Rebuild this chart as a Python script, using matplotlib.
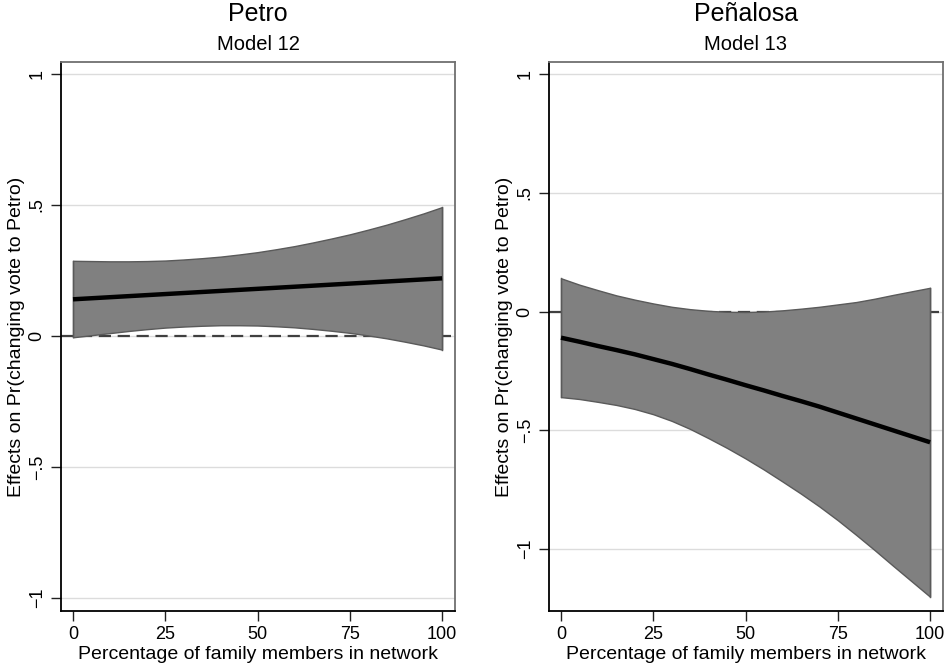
import matplotlib
matplotlib.use("Agg")
import matplotlib.pyplot as plt

plt.rcParams["font.family"] = ["Liberation Sans", "DejaVu Sans"]

# share of family members in network (%)
x_vals = [0, 5, 10, 15, 20, 25, 30, 35, 40, 45, 50,
          55, 60, 65, 70, 75, 80, 85, 90, 95, 100]

# Model 12 (Petro)
petro_mean = [0.140, 0.144, 0.148, 0.152, 0.156, 0.160, 0.164, 0.168, 0.172, 0.176, 0.180,
              0.184, 0.188, 0.192, 0.196, 0.200, 0.204, 0.208, 0.212, 0.216, 0.220]
petro_upper = [0.287, 0.286, 0.285, 0.285, 0.286, 0.288, 0.292, 0.297, 0.303, 0.311, 0.320,
               0.331, 0.343, 0.357, 0.372, 0.388, 0.406, 0.425, 0.446, 0.468, 0.492]
petro_lower = [-0.005, 0.003, 0.011, 0.019, 0.026, 0.032, 0.036, 0.039, 0.041, 0.041, 0.040,
               0.037, 0.033, 0.027, 0.020, 0.012, 0.002, -0.009, -0.022, -0.036, -0.052]

# Model 13 (Peñalosa)
penalosa_mean = [-0.110, -0.127, -0.145, -0.162, -0.180, -0.200, -0.220, -0.242, -0.265, -0.287, -0.310,
                 -0.332, -0.355, -0.377, -0.400, -0.425, -0.450, -0.475, -0.500, -0.525, -0.550]
penalosa_upper = [0.140, 0.113, 0.090, 0.068, 0.050, 0.034, 0.020, 0.010, 0.003, -0.001, -0.002,
                  0.000, 0.005, 0.012, 0.020, 0.030, 0.040, 0.054, 0.070, 0.085, 0.100]
penalosa_lower = [-0.360, -0.368, -0.380, -0.393, -0.410, -0.432, -0.460, -0.494, -0.533, -0.574, -0.618,
                  -0.665, -0.715, -0.766, -0.820, -0.878, -0.940, -1.004, -1.070, -1.135, -1.200]

y_ticks = [-1, -0.5, 0, 0.5, 1]
y_ticklabels = ["\u22121", "\u2212.5", "0", ".5", "1"]
x_ticks = [0, 25, 50, 75, 100]

panels = [
    ("Petro", "Model 12", petro_mean, petro_upper, petro_lower, (-1.05, 1.046)),
    ("Peñalosa", "Model 13", penalosa_mean, penalosa_upper, penalosa_lower, (-1.26, 1.05)),
]

fig = plt.figure(figsize=(9.53, 6.64), dpi=100)
fig.patch.set_facecolor("white")

axes_boxes = [
    [61 / 953, 1 - 611 / 664, 394 / 953, 549 / 664],
    [549 / 953, 1 - 611 / 664, 394 / 953, 549 / 664],
]

for box, (title, subtitle, mean, upper, lower, ylim) in zip(axes_boxes, panels):
    ax = fig.add_axes(box)
    ax.set_xlim(-3.25, 103.5)
    ax.set_ylim(*ylim)

    for yt in y_ticks:
        ax.axhline(yt, color="#dcdcdc", lw=1.0, zorder=1)
    ax.axhline(0, color="#404040", lw=1.6, ls=(0, (5.5, 3)), zorder=2)

    ax.fill_between(x_vals, lower, upper, facecolor="#808080",
                    edgecolor="#5a5a5a", lw=1.0, zorder=3)
    ax.plot([x_vals[0], x_vals[0]], [lower[0], upper[0]], color="#5a5a5a", lw=1.0, zorder=3)
    ax.plot([x_vals[-1], x_vals[-1]], [lower[-1], upper[-1]], color="#5a5a5a", lw=1.0, zorder=3)
    ax.plot(x_vals, mean, color="black", lw=3.2, zorder=4, solid_capstyle="butt")

    ax.set_yticks(y_ticks)
    ax.set_yticklabels(y_ticklabels, rotation=90, va="center", fontsize=13)
    ax.set_xticks(x_ticks)
    ax.set_xticklabels([str(t) for t in x_ticks], fontsize=13)
    ax.tick_params(direction="out", length=7, width=1.0, color="#202020", pad=4)

    for side in ["left", "bottom"]:
        ax.spines[side].set_color("black")
        ax.spines[side].set_linewidth(1.3)
    for side in ["top", "right"]:
        ax.spines[side].set_color("#707070")
        ax.spines[side].set_linewidth(1.3)

    ax.set_xlabel("Percentage of family members in network", fontsize=14, labelpad=2)
    ax.set_ylabel("Effects on Pr(changing vote to Petro)", fontsize=14, labelpad=3)

    ax.text(0.5, 1.015, subtitle, transform=ax.transAxes, ha="center", va="bottom", fontsize=14.5)
    ax.text(0.5, 1.066, title, transform=ax.transAxes, ha="center", va="bottom", fontsize=18)

fig.savefig("out.png", dpi=100, facecolor="white")
